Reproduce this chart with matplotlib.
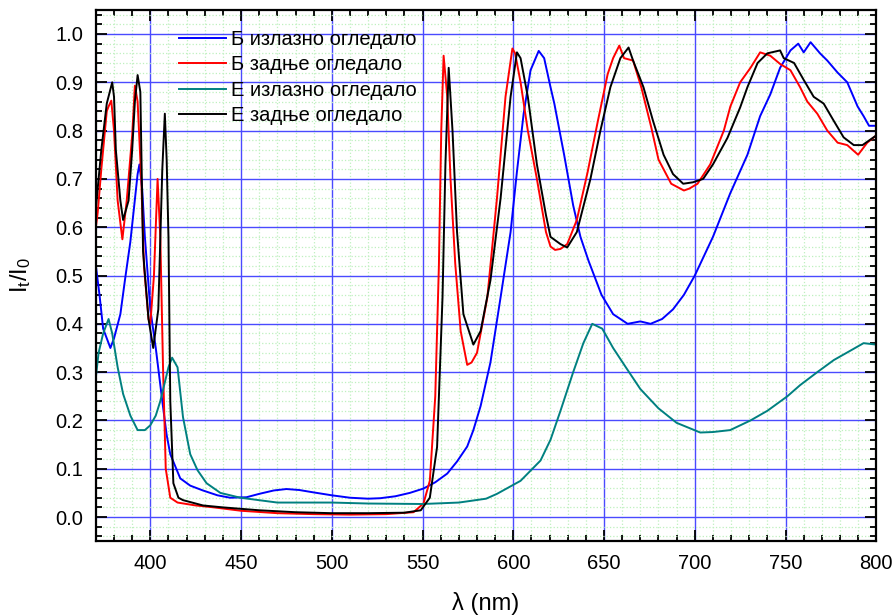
import matplotlib
matplotlib.use('Agg')
import matplotlib.pyplot as plt
from matplotlib.ticker import MultipleLocator, FormatStrFormatter

plt.rcParams['font.family'] = ['Liberation Sans', 'DejaVu Sans']
plt.rcParams['mathtext.default'] = 'regular'

# transmission spectra, wavelength in nm
wl_b_out = [370, 372, 374, 376, 378, 380, 383.5, 386, 389, 391, 393, 394, 395.5, 397, 400,
            403, 406.6, 409, 411, 416.5, 422, 429, 437, 444, 453, 460, 468, 475, 482, 490,
            500, 510, 520, 526.7, 535, 543, 550.5, 557, 563.6, 569, 574.6, 578, 582, 587.4,
            593, 598.5, 602, 605.7, 609.5, 614, 617, 620.5, 622.6, 628, 633, 637, 641.5,
            648.6, 655, 663, 670, 675.6, 682, 688, 694, 700, 705, 710, 719.5, 729, 736,
            741.6, 747, 752.7, 757, 760, 763.8, 769, 773, 778.7, 784, 789.7, 793, 796, 800]
it_b_out = [0.52, 0.46, 0.39, 0.37, 0.35, 0.37, 0.42, 0.49, 0.57, 0.64, 0.71, 0.73, 0.68, 0.58, 0.43,
            0.35, 0.24, 0.17, 0.13, 0.08, 0.065, 0.055, 0.045, 0.04, 0.041, 0.048, 0.055, 0.058, 0.056, 0.051,
            0.045, 0.040, 0.038, 0.039, 0.043, 0.05, 0.059, 0.072, 0.09, 0.115, 0.146, 0.18, 0.23, 0.32,
            0.455, 0.59, 0.715, 0.835, 0.925, 0.965, 0.95, 0.89, 0.856, 0.75, 0.645, 0.58, 0.53,
            0.46, 0.42, 0.40, 0.405, 0.40, 0.41, 0.43, 0.46, 0.50, 0.54, 0.58, 0.67, 0.75, 0.83,
            0.875, 0.93, 0.966, 0.98, 0.962, 0.983, 0.96, 0.945, 0.92, 0.90, 0.85, 0.83, 0.81, 0.81]

wl_b_back = [370, 371, 373, 376, 377, 378.5, 380, 382, 384.6, 387, 390, 391.5, 393, 395, 396.5,
             399, 400, 402, 404, 405.5, 407, 408.5, 411, 415, 425, 435, 450, 470, 490, 510,
             530, 545, 550.5, 554, 557, 559, 560.3, 561.6, 563.6, 565.4, 568, 571, 574.6, 577,
             580, 585.7, 591, 595.7, 599.5, 601, 604, 608, 613, 618, 620.5, 623, 626, 629.7,
             635, 641, 646.6, 652, 655, 658.4, 661, 666, 670.5, 676, 680, 687, 694, 697,
             701.5, 708.5, 716, 719.6, 725, 730.7, 736, 741.6, 747, 752.7, 758, 762, 767.5,
             773, 778.7, 784, 790, 795, 800]
it_b_back = [0.60, 0.63, 0.72, 0.84, 0.85, 0.862, 0.80, 0.655, 0.575, 0.655, 0.79, 0.893, 0.86, 0.70, 0.52,
             0.41, 0.40, 0.50, 0.70, 0.58, 0.31, 0.10, 0.04, 0.03, 0.024, 0.02, 0.013, 0.008, 0.006, 0.005,
             0.006, 0.01, 0.028, 0.075, 0.25, 0.52, 0.80, 0.955, 0.87, 0.70, 0.525, 0.385, 0.315, 0.32,
             0.34, 0.455, 0.66, 0.87, 0.97, 0.96, 0.90, 0.80, 0.70, 0.59, 0.56, 0.553, 0.555, 0.565,
             0.615, 0.715, 0.82, 0.917, 0.95, 0.976, 0.95, 0.945, 0.89, 0.807, 0.74, 0.69, 0.676, 0.68,
             0.69, 0.73, 0.80, 0.85, 0.90, 0.93, 0.962, 0.955, 0.938, 0.925, 0.89, 0.86, 0.835,
             0.80, 0.775, 0.77, 0.75, 0.775, 0.79]

wl_e_out = [370, 371.5, 374, 377, 379, 382, 385, 389, 393, 397, 400, 403, 405.5, 410, 412,
            415, 418, 422, 426, 431, 438.6, 449.6, 470, 500, 520, 550, 570, 585, 591, 604,
            615, 620.5, 626, 633, 638.6, 643.5, 649, 655, 662, 670, 680, 690, 703, 710,
            719.5, 730.7, 740, 751, 758, 767.5, 776.6, 786, 793, 800]
it_e_out = [0.29, 0.34, 0.38, 0.41, 0.38, 0.31, 0.255, 0.21, 0.18, 0.18, 0.19, 0.21, 0.24, 0.31, 0.33,
            0.31, 0.207, 0.13, 0.097, 0.07, 0.05, 0.04, 0.03, 0.03, 0.028, 0.027, 0.03, 0.038, 0.048, 0.075,
            0.117, 0.16, 0.22, 0.30, 0.36, 0.40, 0.39, 0.35, 0.31, 0.265, 0.225, 0.195, 0.175, 0.176,
            0.18, 0.20, 0.22, 0.25, 0.273, 0.30, 0.325, 0.345, 0.36, 0.357]

wl_e_back = [370, 371, 373, 376, 379, 380, 381, 383.5, 385, 388, 390, 391.5, 393, 394.5, 396,
             399, 401.6, 404.4, 406.6, 408, 409, 410, 411, 412.7, 415.5, 418, 429, 440, 460, 480,
             500, 520, 540, 549, 554, 558, 561, 562.6, 564.4, 566.5, 569, 572.5, 578, 582,
             587.4, 593, 598.5, 602, 604, 608, 613, 618, 620.5, 626, 629.7, 635, 642.5, 648,
             653.5, 659, 663.5, 666, 671.7, 677, 682.8, 688, 693.6, 699, 704.6, 710, 718, 725,
             729, 734.6, 740, 747, 749, 754.7, 760, 765.5, 771, 776.6, 782, 787.6, 792.4, 800]
it_e_back = [0.64, 0.68, 0.76, 0.856, 0.90, 0.87, 0.76, 0.655, 0.615, 0.655, 0.76, 0.86, 0.915, 0.88, 0.55,
             0.41, 0.35, 0.43, 0.72, 0.835, 0.74, 0.58, 0.24, 0.07, 0.04, 0.035, 0.024, 0.02, 0.014, 0.01,
             0.008, 0.008, 0.009, 0.014, 0.04, 0.145, 0.455, 0.73, 0.93, 0.80, 0.59, 0.42, 0.357, 0.385,
             0.49, 0.66, 0.87, 0.962, 0.95, 0.87, 0.73, 0.625, 0.58, 0.565, 0.558, 0.59, 0.70, 0.80,
             0.89, 0.95, 0.972, 0.945, 0.89, 0.82, 0.75, 0.71, 0.69, 0.693, 0.70, 0.73, 0.785, 0.848,
             0.89, 0.94, 0.96, 0.966, 0.95, 0.94, 0.905, 0.87, 0.856, 0.82, 0.786, 0.77, 0.77, 0.79]

labels = ['Б излазно огледало', 'Б задње огледало', 'Е излазно огледало', 'Е задње огледало']
colors = ['#0000ff', '#ff0000', '#008080', '#000000']

fig = plt.figure(figsize=(8.96, 6.15), dpi=100)
ax = fig.add_axes([0.107, 0.120, 0.871, 0.864])

series = [(wl_b_out, it_b_out), (wl_b_back, it_b_back), (wl_e_out, it_e_out), (wl_e_back, it_e_back)]
for (x, y), c, lab in zip(series, colors, labels):
    ax.plot(x, y, color=c, lw=1.4, label=lab)

ax.set_xlim(370, 800)
ax.set_ylim(-0.05, 1.05)
ax.xaxis.set_major_locator(MultipleLocator(50))
ax.xaxis.set_minor_locator(MultipleLocator(10))
ax.yaxis.set_major_locator(MultipleLocator(0.1))
ax.yaxis.set_minor_locator(MultipleLocator(0.02))
ax.yaxis.set_major_formatter(FormatStrFormatter('%.1f'))

ax.set_axisbelow(True)
ax.grid(which='minor', color='#bff0bf', lw=0.9, ls=':')
ax.grid(which='major', color='#4a4aff', lw=1.0)

for s in ax.spines.values():
    s.set_linewidth(1.6)
ax.tick_params(which='both', direction='in', top=True, right=True, labelsize=14.5, width=1.3)
ax.tick_params(which='major', length=8, pad=9)
ax.tick_params(which='minor', length=4.5)

ax.set_xlabel('λ (nm)', fontsize=17, labelpad=14)
ax.set_ylabel('I$_t$/I$_0$', fontsize=17, labelpad=16)

ax.legend(loc='upper left', bbox_to_anchor=(0.107, 0.962), frameon=False, fontsize=14.5,
          handlelength=2.3, handletextpad=0.25, labelspacing=0.32, borderpad=0, borderaxespad=0)

fig.savefig('out.png', dpi=100)
